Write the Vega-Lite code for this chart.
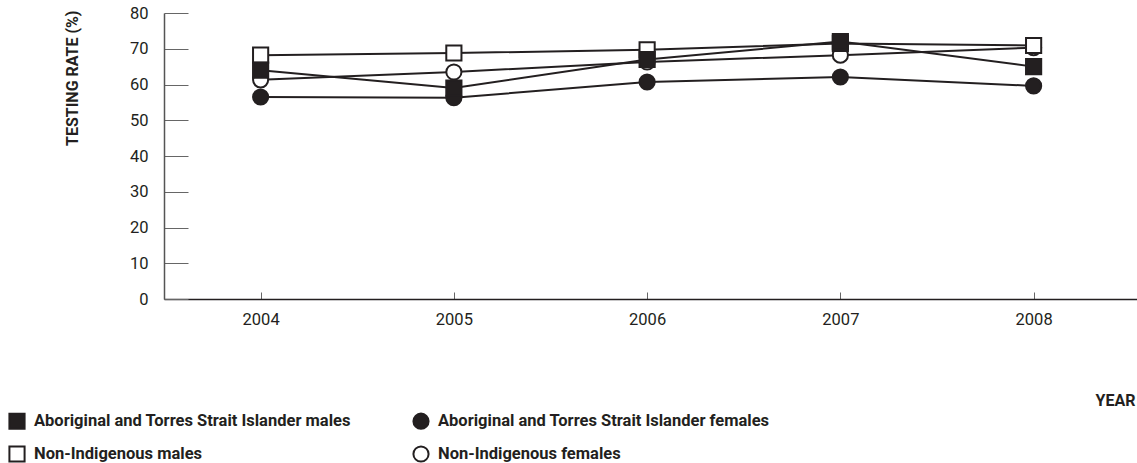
{
  "$schema": "https://vega.github.io/schema/vega-lite/v6.json",
  "autosize": "none",
  "width": 973,
  "height": 286,
  "padding": {"left": 164, "top": 13, "right": 0, "bottom": 164},
  "background": "white",
  "config": {
    "view": {"stroke": null},
    "font": "Roboto, Liberation Sans, sans-serif"
  },
  "data": {
    "values": [
      {"group": "Non-Indigenous females", "year": 2004, "rate": 61.3},
      {"group": "Non-Indigenous females", "year": 2005, "rate": 63.5},
      {"group": "Non-Indigenous females", "year": 2006, "rate": 66.3},
      {"group": "Non-Indigenous females", "year": 2007, "rate": 68.2},
      {"group": "Non-Indigenous females", "year": 2008, "rate": 70.3},
      {"group": "Non-Indigenous males", "year": 2004, "rate": 68.2},
      {"group": "Non-Indigenous males", "year": 2005, "rate": 68.8},
      {"group": "Non-Indigenous males", "year": 2006, "rate": 69.7},
      {"group": "Non-Indigenous males", "year": 2007, "rate": 71.5},
      {"group": "Non-Indigenous males", "year": 2008, "rate": 70.9},
      {"group": "Aboriginal and Torres Strait Islander females", "year": 2004, "rate": 56.5},
      {"group": "Aboriginal and Torres Strait Islander females", "year": 2005, "rate": 56.3},
      {"group": "Aboriginal and Torres Strait Islander females", "year": 2006, "rate": 60.7},
      {"group": "Aboriginal and Torres Strait Islander females", "year": 2007, "rate": 62.1},
      {"group": "Aboriginal and Torres Strait Islander females", "year": 2008, "rate": 59.6},
      {"group": "Aboriginal and Torres Strait Islander males", "year": 2004, "rate": 64.0},
      {"group": "Aboriginal and Torres Strait Islander males", "year": 2005, "rate": 59.0},
      {"group": "Aboriginal and Torres Strait Islander males", "year": 2006, "rate": 67.0},
      {"group": "Aboriginal and Torres Strait Islander males", "year": 2007, "rate": 72.0},
      {"group": "Aboriginal and Torres Strait Islander males", "year": 2008, "rate": 65.0}
    ]
  },
  "encoding": {
    "x": {
      "field": "year",
      "type": "quantitative",
      "scale": {"domain": [2003.5, 2008.535], "nice": false, "zero": false},
      "axis": {
        "values": [2004, 2005, 2006, 2007, 2008],
        "format": "d",
        "grid": false,
        "title": "YEAR",
        "titleFontWeight": "bold",
        "titleFontSize": 16,
        "titleColor": "#231f20",
        "titleAlign": "right",
        "titleBaseline": "middle",
        "titleX": 971,
        "titleY": 101,
        "domainColor": "#231f20",
        "domainWidth": 1.5,
        "tickColor": "#666666",
        "tickSize": -7,
        "labelPadding": 19,
        "labelFontSize": 16.5,
        "labelColor": "#231f20"
      }
    },
    "y": {
      "field": "rate",
      "type": "quantitative",
      "scale": {"domain": [0, 80], "nice": false},
      "axis": {
        "values": [0, 10, 20, 30, 40, 50, 60, 70, 80],
        "grid": false,
        "title": "TESTING RATE (%)",
        "titleFontWeight": "bold",
        "titleFontSize": 16,
        "titleColor": "#231f20",
        "titleAngle": 270,
        "titleAlign": "right",
        "titleBaseline": "middle",
        "titleX": -92,
        "titleY": -3,
        "domainColor": "#555555",
        "domainWidth": 1.5,
        "tickColor": "#666666",
        "tickSize": -24,
        "labelPadding": 40,
        "labelFontSize": 16.5,
        "labelColor": "#231f20"
      }
    }
  },
  "layer": [
    {
      "mark": {"type": "line", "color": "#231f20", "strokeWidth": 2},
      "encoding": {"detail": {"field": "group"}}
    },
    {
      "mark": {"type": "point", "filled": true, "strokeWidth": 2, "opacity": 1, "size": 230},
      "encoding": {
        "shape": {
          "field": "group",
          "type": "nominal",
          "scale": {
            "domain": [
              "Aboriginal and Torres Strait Islander males",
              "Aboriginal and Torres Strait Islander females",
              "Non-Indigenous males",
              "Non-Indigenous females"
            ],
            "range": ["square", "circle", "square", "circle"]
          },
          "legend": {
            "title": null,
            "orient": "none",
            "legendX": -156,
            "legendY": 399,
            "direction": "horizontal",
            "columns": 2,
            "columnPadding": 58,
            "rowPadding": 9,
            "gridAlign": "each",
            "symbolSize": 230,
            "symbolStrokeWidth": 2,
            "labelFontSize": 16.5,
            "labelFontWeight": "bold",
            "labelColor": "#231f20",
            "labelOffset": 8,
            "labelLimit": 500
          }
        },
        "fill": {
          "field": "group",
          "type": "nominal",
          "scale": {
            "domain": [
              "Aboriginal and Torres Strait Islander males",
              "Aboriginal and Torres Strait Islander females",
              "Non-Indigenous males",
              "Non-Indigenous females"
            ],
            "range": ["#231f20", "#231f20", "#ffffff", "#ffffff"]
          }
        },
        "stroke": {
          "field": "group",
          "type": "nominal",
          "scale": {
            "domain": [
              "Aboriginal and Torres Strait Islander males",
              "Aboriginal and Torres Strait Islander females",
              "Non-Indigenous males",
              "Non-Indigenous females"
            ],
            "range": ["#231f20", "#231f20", "#231f20", "#231f20"]
          }
        }
      }
    }
  ]
}
